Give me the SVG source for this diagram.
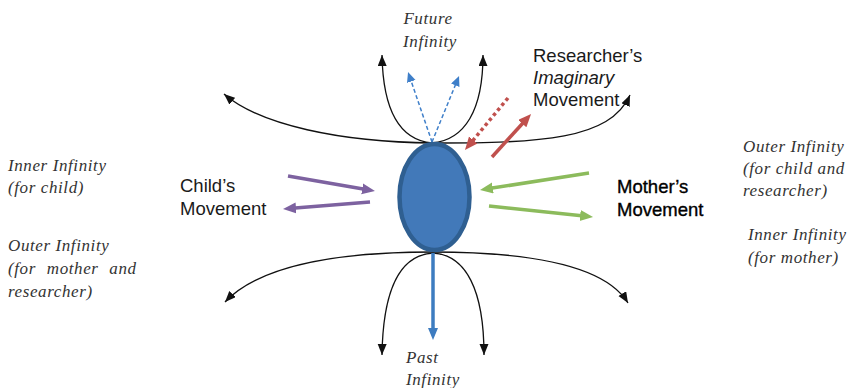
<svg xmlns="http://www.w3.org/2000/svg" width="847" height="388" viewBox="0 0 847 388">
  <style>
    .curve { fill: none; stroke: #111; stroke-width: 1.3; marker-end: url(#headBlack); }
    .inf { font-family: "Liberation Serif", "Times New Roman", serif; font-style: italic; font-size: 17px; fill: #333; letter-spacing: 0.6px; }
    .lbl { font-family: "Liberation Sans", Arial, sans-serif; font-size: 18.5px; fill: #1a1a1a; }
    .lbl.heavy { fill: #000; stroke: #000; stroke-width: 0.35; }
    .thick { fill: none; stroke-width: 3.5; }
  </style>
  <defs>
    <marker id="headBlack" markerUnits="userSpaceOnUse" markerWidth="12" markerHeight="10" refX="11" refY="4.5" orient="auto">
      <path d="M0,0 L11,4.5 L0,9 z" fill="#111"/>
    </marker>
    <marker id="headDash" markerUnits="userSpaceOnUse" markerWidth="12" markerHeight="10" refX="3" refY="4.5" orient="auto">
      <path d="M0,0 L10,4.5 L0,9 z" fill="#3f7fc9"/>
    </marker>
    <marker id="headPurple" markerUnits="userSpaceOnUse" markerWidth="14" markerHeight="12" refX="4" refY="5.5" orient="auto">
      <path d="M0,0 L13,5.5 L0,11 z" fill="#7d62a0"/>
    </marker>
    <marker id="headGreen" markerUnits="userSpaceOnUse" markerWidth="14" markerHeight="12" refX="4" refY="5.5" orient="auto">
      <path d="M0,0 L13,5.5 L0,11 z" fill="#8cbb5c"/>
    </marker>
    <marker id="headRed" markerUnits="userSpaceOnUse" markerWidth="14" markerHeight="12" refX="4" refY="5.5" orient="auto">
      <path d="M0,0 L13,5.5 L0,11 z" fill="#c0504d"/>
    </marker>
    <marker id="headBlue" markerUnits="userSpaceOnUse" markerWidth="13" markerHeight="11" refX="3" refY="5" orient="auto">
      <path d="M0,0 L12,5 L0,10 z" fill="#3d7cc0"/>
    </marker>
  </defs>

  <!-- infinity curves and movement arrows -->
  <g id="connectors">
    <!-- outer curves above the body -->
    <path class="curve" d="M433,143 C340,142 260,125 224,94"/>
    <path class="curve" d="M433,143 C540,143 610,140 630,95"/>
    <!-- inner curves rising to future infinity -->
    <path class="curve" d="M432,143 C400,140 383,110 382,55"/>
    <path class="curve" d="M432,143 C465,140 483,110 483,55"/>
    <!-- outer curves below the body -->
    <path class="curve" d="M433,252 C340,252 260,265 225,302"/>
    <path class="curve" d="M433,252 C530,252 605,265 628,303"/>
    <!-- inner curves falling to past infinity -->
    <path class="curve" d="M433,253 C400,255 383,290 382,355"/>
    <path class="curve" d="M433,253 C466,255 484,290 484,355"/>

    <!-- dashed paths towards the future -->
    <path d="M432,142 L410.3,78.6" fill="none" stroke="#3f7fc9" stroke-width="1.5" stroke-dasharray="4 2.5" marker-end="url(#headDash)"/>
    <path d="M432,142 L456.4,82.5" fill="none" stroke="#3f7fc9" stroke-width="1.5" stroke-dasharray="4 2.5" marker-end="url(#headDash)"/>

    <!-- past -->
    <path class="thick" d="M433,253 L433,331" stroke="#3d7cc0" stroke-width="3" marker-end="url(#headBlue)"/>

    <!-- researcher's imaginary movement -->
    <path class="thick" d="M508,98 L470.7,143.1" stroke="#c0504d" stroke-width="4" stroke-dasharray="3.5 3" marker-end="url(#headRed)"/>
    <path class="thick" d="M492,157 L525,120.7" stroke="#c0504d" marker-end="url(#headRed)"/>

    <!-- child's movement -->
    <path class="thick" d="M288,176 L366.1,189.5" stroke="#7d62a0" marker-end="url(#headPurple)"/>
    <path class="thick" d="M370,202 L292,208.3" stroke="#7d62a0" marker-end="url(#headPurple)"/>

    <!-- mother's movement -->
    <path class="thick" d="M589,173 L488.9,188.6" stroke="#8cbb5c" marker-end="url(#headGreen)"/>
    <path class="thick" d="M489,206 L584.1,216" stroke="#8cbb5c" marker-end="url(#headGreen)"/>
  </g>

  <g id="body">
    <ellipse cx="434.5" cy="197" rx="35" ry="53" fill="#4279b9" stroke="#2f5f91" stroke-width="4.5"/>
  </g>

  <g id="future-infinity">
    <text class="inf" x="428" y="24" text-anchor="middle">Future</text>
    <text class="inf" x="430" y="47" text-anchor="middle">Infinity</text>
  </g>

  <g id="past-infinity">
    <text class="inf" x="406" y="363">Past</text>
    <text class="inf" x="406" y="385">Infinity</text>
  </g>

  <g id="researcher-label">
    <text class="lbl" x="533" y="62">Researcher’s</text>
    <text class="lbl" x="533" y="84" font-style="italic">Imaginary</text>
    <text class="lbl" x="533" y="106">Movement</text>
  </g>

  <g id="child-label">
    <text class="lbl" x="180" y="192">Child’s</text>
    <text class="lbl" x="180" y="215">Movement</text>
  </g>

  <g id="mother-label">
    <text class="lbl heavy" x="617" y="193">Mother’s</text>
    <text class="lbl heavy" x="617" y="216">Movement</text>
  </g>

  <g id="left-infinities">
    <text class="inf" x="8" y="171">Inner Infinity</text>
    <text class="inf" x="8" y="193">(for child)</text>
    <text class="inf" x="8" y="251">Outer Infinity</text>
    <text class="inf" x="8" y="274" word-spacing="6">(for mother and</text>
    <text class="inf" x="8" y="297">researcher)</text>
  </g>

  <g id="right-infinities">
    <text class="inf" x="743" y="152">Outer Infinity</text>
    <text class="inf" x="743" y="174">(for child and</text>
    <text class="inf" x="743" y="196">researcher)</text>
    <text class="inf" x="748" y="240">Inner Infinity</text>
    <text class="inf" x="748" y="263">(for mother)</text>
  </g>
</svg>
